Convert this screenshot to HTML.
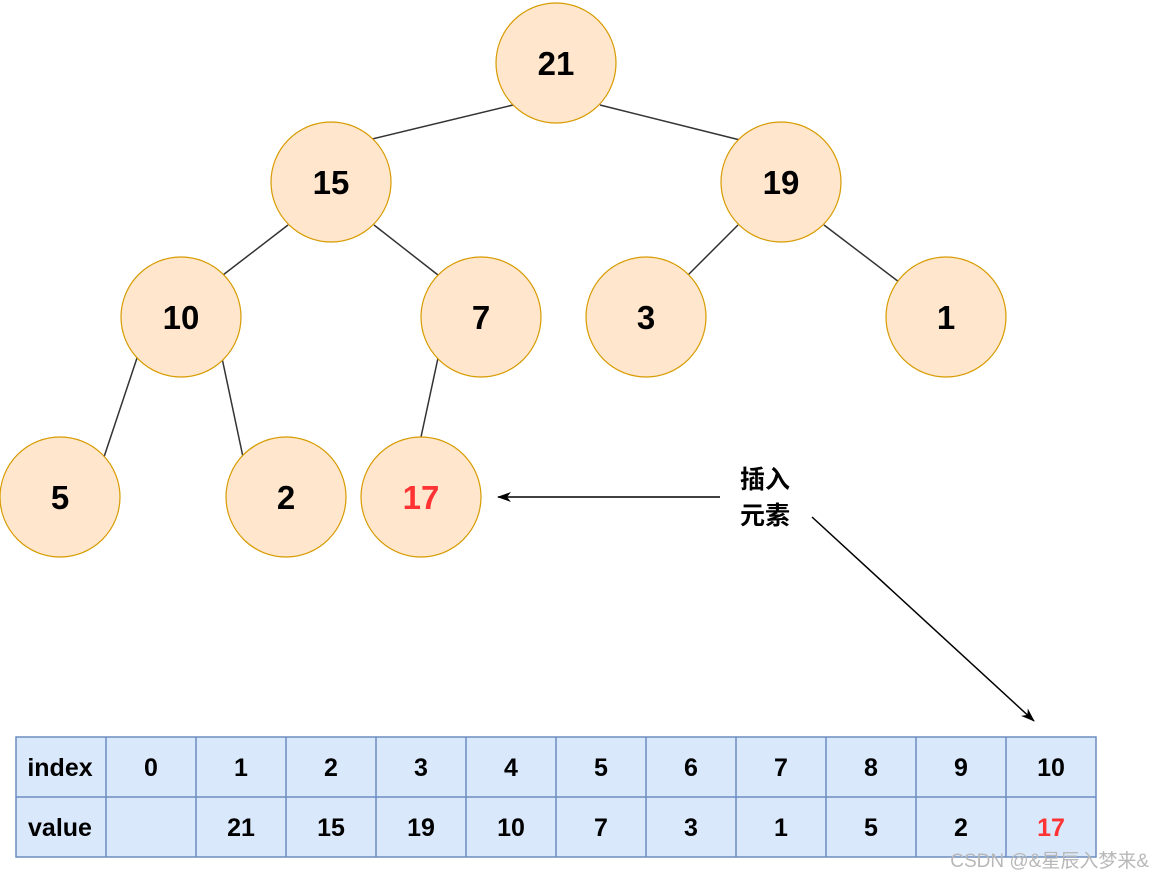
<!DOCTYPE html>
<html><head><meta charset="utf-8"><style>
html,body{margin:0;padding:0;background:#fff;}
svg{display:block}
text{font-family:"Liberation Sans","Noto Sans CJK SC",sans-serif;font-weight:bold;}
</style></head><body>
<svg width="1153" height="879" viewBox="0 0 1153 879" xmlns="http://www.w3.org/2000/svg">
<defs><marker id="a" markerWidth="14" markerHeight="12" refX="13" refY="6" orient="auto" markerUnits="userSpaceOnUse"><path d="M0,1 L14,6 L0,11 L4,6 z" fill="#000"/></marker></defs>
<g stroke="#333" stroke-width="1.5">
<line x1="513" y1="105" x2="368" y2="140"/>
<line x1="600" y1="105" x2="740" y2="140"/>
<line x1="288" y1="225" x2="223" y2="275"/>
<line x1="374" y1="225" x2="438" y2="275"/>
<line x1="738" y1="225" x2="688" y2="275"/>
<line x1="824" y1="225" x2="899" y2="282"/>
<line x1="137" y1="358" x2="104" y2="457"/>
<line x1="222" y1="358" x2="243" y2="457"/>
<line x1="438" y1="358" x2="421" y2="437"/>
</g>
<g fill="#ffe6cc" stroke="#d79b00" stroke-width="1.2">
<circle cx="556" cy="63" r="60"/><circle cx="331" cy="182" r="60"/><circle cx="781" cy="182" r="60"/>
<circle cx="181" cy="317" r="60"/><circle cx="481" cy="317" r="60"/><circle cx="646" cy="317" r="60"/><circle cx="946" cy="317" r="60"/>
<circle cx="60" cy="497" r="60"/><circle cx="286" cy="497" r="60"/><circle cx="421" cy="497" r="60"/>
</g>
<g font-size="33" text-anchor="middle" fill="#000">
<text x="556" y="75">21</text><text x="331" y="194">15</text><text x="781" y="194">19</text>
<text x="181" y="329">10</text><text x="481" y="329">7</text><text x="646" y="329">3</text><text x="946" y="329">1</text>
<text x="60" y="509">5</text><text x="286" y="509">2</text><text x="421" y="509" fill="#ff3333">17</text>
</g>
<line x1="720" y1="497" x2="498" y2="497" stroke="#000" stroke-width="1.5" marker-end="url(#a)"/>
<line x1="812" y1="517" x2="1034" y2="721" stroke="#000" stroke-width="1.5" marker-end="url(#a)"/>
<text x="765" y="488" font-size="25" text-anchor="middle">插入</text>
<text x="765" y="524" font-size="25" text-anchor="middle">元素</text>
<rect x="16" y="737" width="1080" height="120" fill="#dae8fc" stroke="#6c8ebf" stroke-width="1.5"/>
<line x1="16" y1="797" x2="1096" y2="797" stroke="#6c8ebf" stroke-width="1.5"/>
<g stroke="#6c8ebf" stroke-width="1.5">
<line x1="106" y1="737" x2="106" y2="857"/><line x1="196" y1="737" x2="196" y2="857"/><line x1="286" y1="737" x2="286" y2="857"/>
<line x1="376" y1="737" x2="376" y2="857"/><line x1="466" y1="737" x2="466" y2="857"/><line x1="556" y1="737" x2="556" y2="857"/>
<line x1="646" y1="737" x2="646" y2="857"/><line x1="736" y1="737" x2="736" y2="857"/><line x1="826" y1="737" x2="826" y2="857"/>
<line x1="916" y1="737" x2="916" y2="857"/><line x1="1006" y1="737" x2="1006" y2="857"/>
</g>
<g font-size="25" text-anchor="middle">
<text x="60" y="776">index</text><text x="60" y="836">value</text>
<text x="151" y="776">0</text><text x="241" y="776">1</text><text x="331" y="776">2</text><text x="421" y="776">3</text><text x="511" y="776">4</text><text x="601" y="776">5</text><text x="691" y="776">6</text><text x="781" y="776">7</text><text x="871" y="776">8</text><text x="961" y="776">9</text><text x="1051" y="776">10</text>
<text x="241" y="836">21</text><text x="331" y="836">15</text><text x="421" y="836">19</text><text x="511" y="836">10</text><text x="601" y="836">7</text><text x="691" y="836">3</text><text x="781" y="836">1</text><text x="871" y="836">5</text><text x="961" y="836">2</text><text x="1051" y="836" fill="#ff3333">17</text>
</g>
<text x="1149" y="867" font-size="19" text-anchor="end" fill="#b8b8b8" style="font-weight:normal">CSDN @&amp;星辰入梦来&amp;</text>
</svg>
</body></html>
